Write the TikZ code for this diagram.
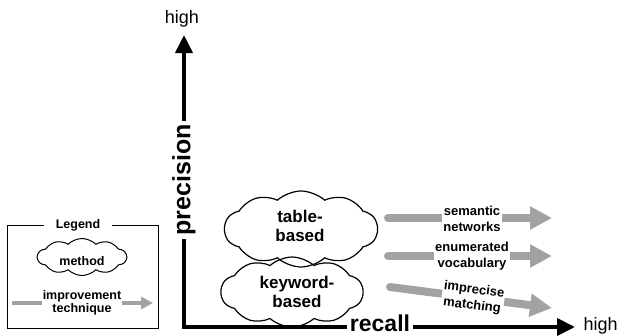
\documentclass[tikz,border=0pt]{standalone}
\usepackage{fontspec}
\setmainfont{Liberation Sans}
\usetikzlibrary{shapes.symbols,arrows.meta}
\definecolor{arrowgray}{RGB}{162,162,162}
\tikzset{
  axisline/.style={line width=4pt, {Triangle[length=18pt,width=17pt]}-{Triangle[length=18pt,width=17pt]}},
  axislabel/.style={font=\fontsize{23}{26}\selectfont\bfseries, fill=white, inner xsep=3pt, inner ysep=0.5pt},
  highlabel/.style={font=\fontsize{18}{20}\selectfont},
  method/.style={cloud, draw, line width=1.2pt, cloud puffs=10, cloud puff arc=85, inner sep=0pt},
  methodtext/.style={align=center, font=\fontsize{17}{19.5}\selectfont\bfseries},
  technique/.style={draw=arrowgray, line width=8pt, line cap=round, -{Triangle[length=22pt,width=22pt]}},
  techlabel/.style={fill=white, inner sep=1pt, align=center, font=\fontsize{13}{15.5}\selectfont\bfseries},
  legendbox/.style={draw, line width=0.8pt},
  legendtext/.style={font=\fontsize{12.5}{13.5}\selectfont\bfseries, align=center},
}
\begin{document}
\begin{tikzpicture}[x=1pt,y=-1pt]
\useasboundingbox (0,0) rectangle (619,335);
% axes
\coordinate (top) at (184,35);
\coordinate (corner) at (184,327);
\coordinate (right) at (575,327);
\draw[axisline, line join=miter] (top) -- (corner) -- (right);
\node[axislabel, rotate=90, font=\fontsize{25}{28}\selectfont\bfseries] (prec) at (184,180) {precision};
\node[axislabel, anchor=base] (rec) at (380,331) {recall};
\node[highlabel] (hightop) at (182,19) {high};
\node[highlabel, anchor=west] (highright) at (580,326) {high};
% methods
\node[method, aspect=2.1, minimum width=153pt, minimum height=76pt] (table) at (301,229) {};
\node[methodtext] (tabletext) at (300,226) {table-\\based};
\node[method, aspect=2.1, minimum width=142pt, minimum height=70pt] (keyword) at (292,292) {};
\node[methodtext] (keywordtext) at (297,292) {keyword-\\based};
% techniques
\coordinate (s1) at (388,218); \coordinate (t1) at (552,218);
\coordinate (s2) at (388,256); \coordinate (t2) at (552,256);
\coordinate (s3) at (390,287); \coordinate (t3) at (552,308);
\draw[technique] (s1) -- (t1);
\draw[technique] (s2) -- (t2);
\draw[technique] (s3) -- (t3);
\node[techlabel] (sem) at (472,219) {semantic\\networks};
\node[techlabel] (enu) at (472,256) {enumerated\\vocabulary};
\node[techlabel, rotate=-7.4, font=\fontsize{13}{16}\selectfont\bfseries] (imp) at (473,298) {imprecise\\matching};
% legend
\node[legendbox, minimum width=151pt, minimum height=103pt] (legend) at (82.5,276.5) {};
\node[legendtext, fill=white, inner xsep=12pt, inner ysep=2pt] (legendtitle) at (78,225) {Legend};
\node[cloud, draw, line width=1pt, cloud puffs=10, cloud puff arc=90, aspect=2.4, minimum width=89pt, minimum height=37pt, inner sep=0pt] (lcloud) at (82,257) {};
\node[legendtext] (lmethod) at (82,261) {method};
\coordinate (ls) at (12,303); \coordinate (lt) at (153,303);
\draw[draw=arrowgray, line width=3.5pt, -{Triangle[length=12pt,width=12pt]}] (ls) -- (lt);
\node[legendtext, fill=white, inner sep=1pt] (ltech) at (82,303) {improvement\\technique};
\end{tikzpicture}
\end{document}
